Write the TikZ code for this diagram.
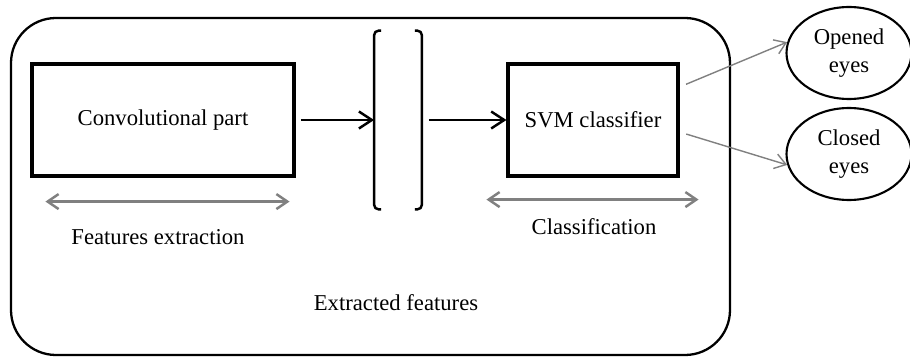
\documentclass[tikz,border=0pt]{standalone}
\usepackage{fontspec}
\setmainfont{Liberation Serif}
\usetikzlibrary{arrows.meta,shapes.geometric}
\tikzset{
	blk/.style={draw,line width=1.8pt,minimum height=2.24cm,inner sep=0pt},
	res/.style={draw,ellipse,line width=1.2pt,minimum width=2.5cm,minimum height=1.84cm,inner sep=0pt,align=center},
	span/.style={draw=gray,line width=1.4pt,{Straight Barb[length=2.2mm,width=3mm]}-{Straight Barb[length=2.2mm,width=3mm]}},
	toclass/.style={draw=gray,line width=0.8pt,-{Straight Barb[length=2.2mm,width=3mm]},shorten <=4pt}
}
\begin{document}
\begin{tikzpicture}[x=0.02cm,y=-0.02cm,>={Straight Barb[length=2.6mm,width=3.4mm]},font=\fontsize{12.9}{16.4}\selectfont]
		\useasboundingbox (0,0) rectangle (910,358);
		\draw[line width=1.3pt,rounded corners=0.9cm] (11,18) rectangle (730,355);
		\node[blk,minimum width=5.24cm] (conv) at (163,120) {Convolutional part};
		\node[minimum width=0.94cm,minimum height=3.56cm,inner sep=0pt] (feat) at (398,120) {};
		\node[blk,minimum width=3.4cm] (svm) at (593,120) {SVM classifier};
		\node[res] (open) at (849,53) {Opened\\eyes};
		\node[res] (closed) at (849,154) {Closed\\eyes};
		\draw[line width=1.4pt,rounded corners=2.5pt] ([xshift=0.14cm]feat.north west)--(feat.north west)--(feat.south west)--([xshift=0.14cm]feat.south west);
		\draw[line width=1.4pt,rounded corners=2.5pt] ([xshift=-0.14cm]feat.north east)--(feat.north east)--(feat.south east)--([xshift=-0.14cm]feat.south east);
		\draw[->,line width=1.4pt,shorten <=3pt] (conv)--(feat);
		\draw[->,line width=1.4pt,shorten <=4pt] (feat)--(svm);
		\draw[toclass] ([yshift=0.66cm]svm.east)--(open.170);
		\draw[toclass] ([yshift=-0.24cm]svm.east)--(closed.190);
		\draw[span] ([xshift=0.3cm,yshift=-0.48cm]conv.south west)--([xshift=-0.12cm,yshift=-0.48cm]conv.south east);
		\draw[span] ([xshift=-0.4cm,yshift=-0.44cm]svm.south west)--([xshift=0.38cm,yshift=-0.44cm]svm.south east);
		\node (fe) at (158,237) {Features extraction};
		\node (cl) at (594,227) {Classification};
		\node (ef) at (396,303) {Extracted features};
\end{tikzpicture}
\end{document}
